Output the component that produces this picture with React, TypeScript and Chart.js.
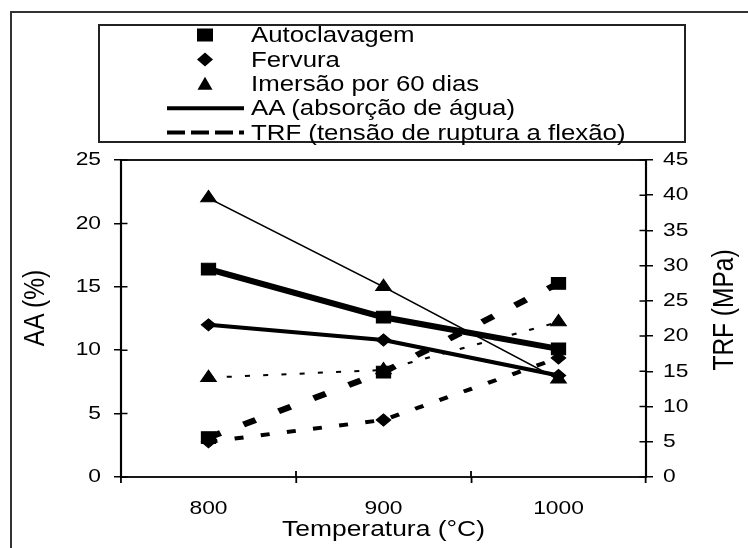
import React, { useEffect, useRef } from "react";
import { Chart, registerables } from "chart.js";

Chart.register(...registerables);

// ---- data ----
const temperatures = ["800", "900", "1000"];

const aaAutoclavagem = [16.4, 12.6, 10.1];
const aaFervura = [12.0, 10.8, 8.0];
const aaImersao = [22.0, 15.0, 7.7];

const trfAutoclavagem = [5.6, 14.9, 27.5];
const trfFervura = [5.0, 8.1, 16.9];
const trfImersao = [14.1, 15.2, 22.0];

const aaAxis = [0, 25, 5]; // min, max, step
const trfAxis = [0, 45, 5];

const legendLabels = [
  "Autoclavagem",
  "Fervura",
  "Imersão por 60 dias",
  "AA (absorção de água)",
  "TRF (tensão de ruptura a flexão)",
];
const xTitle = "Temperatura (°C)";
const yTitle = "AA (%)";
const y1Title = "TRF (MPa)";

// ---- layout ----
const W = 748;
const H = 548;
const LW = 623; // logical canvas width (horizontally stretched to W)
const S = W / LW;
const FONT = '"Liberation Sans", Arial, sans-serif';

const framePlugin = {
  id: "frameTicks",
  beforeDatasetsDraw(chart: any) {
    const { ctx, chartArea: a, scales } = chart;
    ctx.save();
    ctx.strokeStyle = "#000";
    ctx.lineWidth = 1.8;
    ctx.strokeRect(a.left, a.top, a.right - a.left, a.bottom - a.top);
    ctx.lineWidth = 1.5;
    ctx.beginPath();
    const inX = 6.5 / S;
    const y = scales.y;
    y.ticks.forEach((t: any) => {
      const p = y.getPixelForValue(t.value);
      ctx.moveTo(a.left, p);
      ctx.lineTo(a.left + inX, p);
    });
    const y1 = scales.y1;
    y1.ticks.forEach((t: any) => {
      const p = y1.getPixelForValue(t.value);
      ctx.moveTo(a.right - inX, p);
      ctx.lineTo(a.right, p);
    });
    const x = scales.x;
    for (let i = 0; i <= temperatures.length; i++) {
      const p = x.getPixelForValue(i - 0.5);
      ctx.moveTo(p, a.bottom);
      ctx.lineTo(p, a.bottom - 6);
    }
    ctx.stroke();
    ctx.restore();
  },
};

function ds(label: string, data: number[], axis: string, width: number, style: string, radius: number, dash: number[]) {
  return {
    label,
    data,
    yAxisID: axis,
    borderColor: "#000",
    backgroundColor: "#000",
    pointBackgroundColor: "#000",
    pointBorderColor: "#000",
    borderWidth: width,
    borderDash: dash,
    pointStyle: style,
    pointRadius: radius,
    pointBorderWidth: 1,
    tension: 0,
    fill: false,
  };
}

export default function App() {
  const ref = useRef<HTMLCanvasElement>(null);

  useEffect(() => {
    const canvas = ref.current!;
    canvas.width = LW;
    canvas.height = H;
    const tickFont = { family: FONT, size: 19 };
    const chart = new Chart(canvas, {
      type: "line",
      data: {
        labels: temperatures,
        datasets: [
          ds("AA Autoclavagem", aaAutoclavagem, "y", 6, "rect", 8.3, []),
          ds("AA Fervura", aaFervura, "y", 4, "rectRot", 6, []),
          ds("AA Imersão por 60 dias", aaImersao, "y", 1.5, "triangle", 7.5, []),
          ds("TRF Autoclavagem", trfAutoclavagem, "y1", 6, "rect", 8.3, [11, 21]),
          ds("TRF Fervura", trfFervura, "y1", 4, "rectRot", 6, [7.5, 14.5]),
          ds("TRF Imersão por 60 dias", trfImersao, "y1", 2, "triangle", 7.5, [4.2, 11]),
        ],
      } as any,
      options: {
        animation: false,
        responsive: false,
        events: [],
        layout: { padding: { top: 160, left: 0, right: 0, bottom: 0 } },
        plugins: { legend: { display: false }, tooltip: { enabled: false }, title: { display: false } },
        scales: {
          x: {
            type: "category",
            offset: true,
            grid: { display: true, drawOnChartArea: false, drawTicks: true, tickLength: 6, color: "#000", lineWidth: 1.5, offset: true },
            border: { display: false },
            ticks: { color: "#000", font: tickFont, padding: 14.6, maxRotation: 0, autoSkip: false },
            title: { display: true, text: xTitle, color: "#000", font: { family: FONT, size: 22 }, padding: { top: 2, bottom: 5 } },
            afterFit: (s: any) => { s.height = 71; },
          },
          y: {
            type: "linear",
            position: "left",
            min: aaAxis[0],
            max: aaAxis[1],
            grid: { display: true, drawOnChartArea: false, drawTicks: true, tickLength: 7 / S, color: "#000", lineWidth: 1.5 },
            border: { display: false },
            ticks: { stepSize: aaAxis[2], color: "#000", font: tickFont, padding: 10.8 },
            afterFit: (s: any) => { s.width = 121 / S; },
          },
          y1: {
            type: "linear",
            position: "right",
            min: trfAxis[0],
            max: trfAxis[1],
            grid: { display: true, drawOnChartArea: false, drawTicks: true, tickLength: 7 / S, color: "#000", lineWidth: 1.5 },
            border: { display: false },
            ticks: { stepSize: trfAxis[2], color: "#000", font: tickFont, padding: 8.4 },
            afterFit: (s: any) => { s.width = (W - 646) / S; },
          },
        },
      } as any,
      plugins: [framePlugin],
    });
    // stretch the drawing horizontally like the reference figure
    canvas.width = W;
    chart.ctx.setTransform(S, 0, 0, 1, 0, 0);
    chart.draw();
    return () => {
      chart.destroy();
    };
  }, []);

  const rowY = [35, 59.4, 83.8, 108.2, 132.6];
  const legendFs = 21.5;

  return (
    <div
      style={{
        position: "fixed",
        left: 0,
        top: 0,
        width: W,
        height: H,
        overflow: "hidden",
        background: "#fff",
        fontFamily: FONT,
        color: "#000",
      }}
    >
      <div style={{ position: "absolute", left: 10, top: 11, width: 900, height: 900, border: "2px solid #333" }} />
      <canvas
        ref={ref}
        width={LW}
        height={H}
        style={{ position: "absolute", left: 0, top: 0, width: W + "px", height: H + "px" }}
      />
      <div
        style={{
          position: "absolute",
          left: 98,
          top: 24,
          width: 588,
          height: 119,
          boxSizing: "border-box",
          border: "2px solid #222",
        }}
      />
      <svg width={W} height={H} style={{ position: "absolute", left: 0, top: 0 }}>
        <rect x={197} y={rowY[0] - 6.5} width={16} height={13} fill="#000" />
        <polygon
          points={`197,${rowY[1]} 205,${rowY[1] - 7} 213,${rowY[1]} 205,${rowY[1] + 7}`}
          fill="#000"
        />
        <polygon
          points={`205,${rowY[2] - 7} 212.5,${rowY[2] + 6} 197.5,${rowY[2] + 6}`}
          fill="#000"
        />
        <line x1={167} y1={rowY[3]} x2={244} y2={rowY[3]} stroke="#000" strokeWidth={4} />
        <line x1={167} y1={rowY[4]} x2={244} y2={rowY[4]} stroke="#000" strokeWidth={4} strokeDasharray="18 6" />
      </svg>
      {legendLabels.map((t, i) => (
        <span
          key={t}
          style={{
            position: "absolute",
            left: 251,
            top: rowY[i] - 11.8,
            fontSize: legendFs,
            lineHeight: "24px",
            whiteSpace: "nowrap",
            transform: `scaleX(${S})`,
            transformOrigin: "0 50%",
          }}
        >
          {t}
        </span>
      ))}
      <div
        style={{
          position: "absolute",
          left: 33.5 - 70,
          top: 307.5 - 15,
          width: 140,
          height: 30,
          lineHeight: "30px",
          fontSize: 24.5,
          textAlign: "center",
          whiteSpace: "nowrap",
          transform: `scaleX(${S}) rotate(-90deg)`,
        }}
      >
        {yTitle}
      </div>
      <div
        style={{
          position: "absolute",
          left: 722.5 - 70,
          top: 310 - 15,
          width: 140,
          height: 30,
          lineHeight: "30px",
          fontSize: 24.5,
          textAlign: "center",
          whiteSpace: "nowrap",
          transform: `scaleX(${S}) rotate(-90deg)`,
        }}
      >
        {y1Title}
      </div>
    </div>
  );
}
